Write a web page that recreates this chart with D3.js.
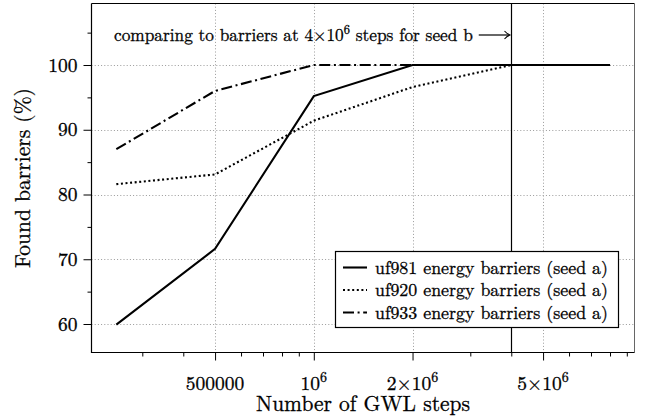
<!DOCTYPE html>
<html>
<head>
<meta charset="utf-8">
<script src="https://cdn.jsdelivr.net/npm/d3@7"></script>
<style>
  body { margin: 0; background: #fff; }
</style>
</head>
<body>
<svg id="chart" width="651" height="420"></svg>
<script>
// GWL step counts and percentage of barriers found for each run
const steps = [250000, 500000, 1000000, 2000000, 4000000, 8000000];
const uf981 = [59.9, 71.6, 95.2, 100, 100, 100];
const uf920 = [81.6, 83.1, 91.4, 96.6, 100, 100];
const uf933 = [87.0, 96.0, 100, 100, 100, 100];
const seriesNames = [
  "uf981 energy barriers (seed a)",
  "uf920 energy barriers (seed a)",
  "uf933 energy barriers (seed a)"
];

// axis ticks
const xMajorTicks = [500000, 1000000, 2000000, 5000000];
const xTickLabels = [["500000", ""], ["10", "6"], ["2×10", "6"], ["5×10", "6"]];
const xMinorTicks = [300000, 400000, 600000, 700000, 800000, 900000,
                     3000000, 4000000, 6000000, 7000000, 8000000, 9000000];
const yMajorTicks = [60, 70, 80, 90, 100];
const yMinorTicks = [65, 75, 85, 95, 105];

// reference run used for comparison
const referenceStep = 4000000;
const annotationParts = ["comparing to barriers at 4×10", "6", " steps for seed b"];

const xDomain = [210000, 9500000];
const yDomain = [55.6, 109.5];

const plot = { left: 91.5, right: 634.5, top: 3.5, bottom: 352.5 };
const FONT = '"Latin Modern Roman", "Liberation Serif", serif';

const svg = d3.select("#chart").style("font-family", FONT);

const x = d3.scaleLog().domain(xDomain).range([plot.left, plot.right]);
const y = d3.scaleLinear().domain(yDomain).range([plot.bottom, plot.top]);

// text with a hairline outline so the thin serif face reads darker
function addText(parent) {
  return parent.append("text").style("font-family", FONT)
    .attr("fill", "#000").attr("stroke", "#000").attr("stroke-width", 0.3);
}

// dotted grid at the major ticks
const grid = svg.append("g").attr("stroke", "#9a9a9a").attr("stroke-width", 1)
  .attr("stroke-dasharray", "1,2.2");
grid.selectAll(".gx").data(xMajorTicks).join("line")
  .attr("x1", d => Math.round(x(d)) + 0.5).attr("x2", d => Math.round(x(d)) + 0.5)
  .attr("y1", plot.top).attr("y2", plot.bottom);
grid.selectAll(".gy").data(yMajorTicks).join("line")
  .attr("y1", d => Math.round(y(d)) + 0.5).attr("y2", d => Math.round(y(d)) + 0.5)
  .attr("x1", plot.left).attr("x2", plot.right);

// vertical line at the reference step count
const xRef = Math.round(x(referenceStep)) + 0.5;
svg.append("line")
  .attr("x1", xRef).attr("x2", xRef).attr("y1", plot.top).attr("y2", plot.bottom)
  .attr("stroke", "#000").attr("stroke-width", 1.2);

// data lines
const styles = [
  { values: uf981, dash: null },
  { values: uf920, dash: "2,2.6" },
  { values: uf933, dash: "11,3.6,2,3.6" }
];
const line = d3.line().x(d => x(d[0])).y(d => y(d[1]));
styles.forEach(s => {
  svg.append("path")
    .datum(steps.map((st, i) => [st, s.values[i]]))
    .attr("d", line)
    .attr("fill", "none")
    .attr("stroke", "#000")
    .attr("stroke-width", 2.1)
    .attr("stroke-dasharray", s.dash);
});

// axes
const xAxisMajor = d3.axisBottom(x).tickValues(xMajorTicks).tickSize(8).tickFormat("");
const xAxisMinor = d3.axisBottom(x).tickValues(xMinorTicks).tickSize(4).tickFormat("");
const yAxisMajor = d3.axisLeft(y).tickValues(yMajorTicks).tickSize(8).tickFormat("");
const yAxisMinor = d3.axisLeft(y).tickValues(yMinorTicks).tickSize(4).tickFormat("");

[xAxisMajor, xAxisMinor].forEach(ax => {
  const g = svg.append("g").attr("transform", `translate(0,${plot.bottom})`).call(ax);
  g.select(".domain").remove();
  g.selectAll("line").attr("stroke", "#000");
});
[yAxisMajor, yAxisMinor].forEach(ax => {
  const g = svg.append("g").attr("transform", `translate(${plot.left},0)`).call(ax);
  g.select(".domain").remove();
  g.selectAll("line").attr("stroke", "#000");
});

// frame
svg.append("path")
  .attr("d", `M${plot.left},${plot.top}H${plot.right}`)
  .attr("stroke", "#000").attr("stroke-width", 1);
svg.append("path")
  .attr("d", `M${plot.right},${plot.top}V${plot.bottom}`)
  .attr("stroke", "#666").attr("stroke-width", 1);
svg.append("path")
  .attr("d", `M${plot.left},${plot.top}V${plot.bottom}H${plot.right}`)
  .attr("fill", "none").attr("stroke", "#000").attr("stroke-width", 1.2);

// tick labels
const tickFont = 19.5;
xMajorTicks.forEach((v, i) => {
  const t = addText(svg)
    .attr("x", x(v)).attr("y", plot.bottom + 37)
    .attr("text-anchor", "middle")
    .attr("font-size", tickFont);
  t.append("tspan").text(xTickLabels[i][0]);
  if (xTickLabels[i][1]) {
    t.append("tspan").attr("dy", -8).attr("font-size", 14).text(xTickLabels[i][1]);
  }
});
yMajorTicks.forEach(v => {
  addText(svg)
    .attr("x", plot.left - 14).attr("y", y(v) + 6.5)
    .attr("text-anchor", "end").attr("font-size", tickFont)
    .text(v);
});

// axis titles
addText(svg)
  .attr("x", (plot.left + plot.right) / 2).attr("y", 411)
  .attr("text-anchor", "middle").attr("font-size", 21.5)
  .text("Number of GWL steps");
addText(svg)
  .attr("transform", `translate(30,${(plot.top + plot.bottom) / 2}) rotate(-90)`)
  .attr("text-anchor", "middle").attr("font-size", 21.5)
  .text("Found barriers (%)");

// annotation with arrow pointing at the reference line
const ann = addText(svg)
  .attr("x", 114).attr("y", 41).attr("font-size", 17.3);
ann.append("tspan").text(annotationParts[0]);
ann.append("tspan").attr("dy", -7).attr("font-size", 12.5).text(annotationParts[1]);
ann.append("tspan").attr("dy", 7).text(annotationParts[2]);
const annEnd = 114 + ann.node().getComputedTextLength();
const arrowY = 35;
svg.append("line")
  .attr("x1", annEnd + 6).attr("x2", xRef - 1.5)
  .attr("y1", arrowY).attr("y2", arrowY)
  .attr("stroke", "#000").attr("stroke-width", 1.2);
svg.append("path")
  .attr("d", `M${xRef - 7},${arrowY - 4} Q${xRef - 4},${arrowY - 0.5} ${xRef - 1},${arrowY} Q${xRef - 4},${arrowY + 0.5} ${xRef - 7},${arrowY + 4}`)
  .attr("fill", "none").attr("stroke", "#000").attr("stroke-width", 1.1);

// legend
const leg = { x0: 335.5, y0: 251.5, x1: 618.5, y1: 327.5 };
svg.append("rect")
  .attr("x", leg.x0).attr("y", leg.y0)
  .attr("width", leg.x1 - leg.x0).attr("height", leg.y1 - leg.y0)
  .attr("fill", "#fff").attr("stroke", "#000").attr("stroke-width", 1.2);
seriesNames.forEach((name, i) => {
  const cy = 267.5 + i * 22.5;
  svg.append("line")
    .attr("x1", 343).attr("x2", 367).attr("y1", cy).attr("y2", cy)
    .attr("stroke", "#000").attr("stroke-width", 2.1)
    .attr("stroke-dasharray", styles[i].dash);
  addText(svg)
    .attr("x", 375).attr("y", cy + 6)
    .attr("font-size", 17.9)
    .text(name);
});
</script>
</body>
</html>
